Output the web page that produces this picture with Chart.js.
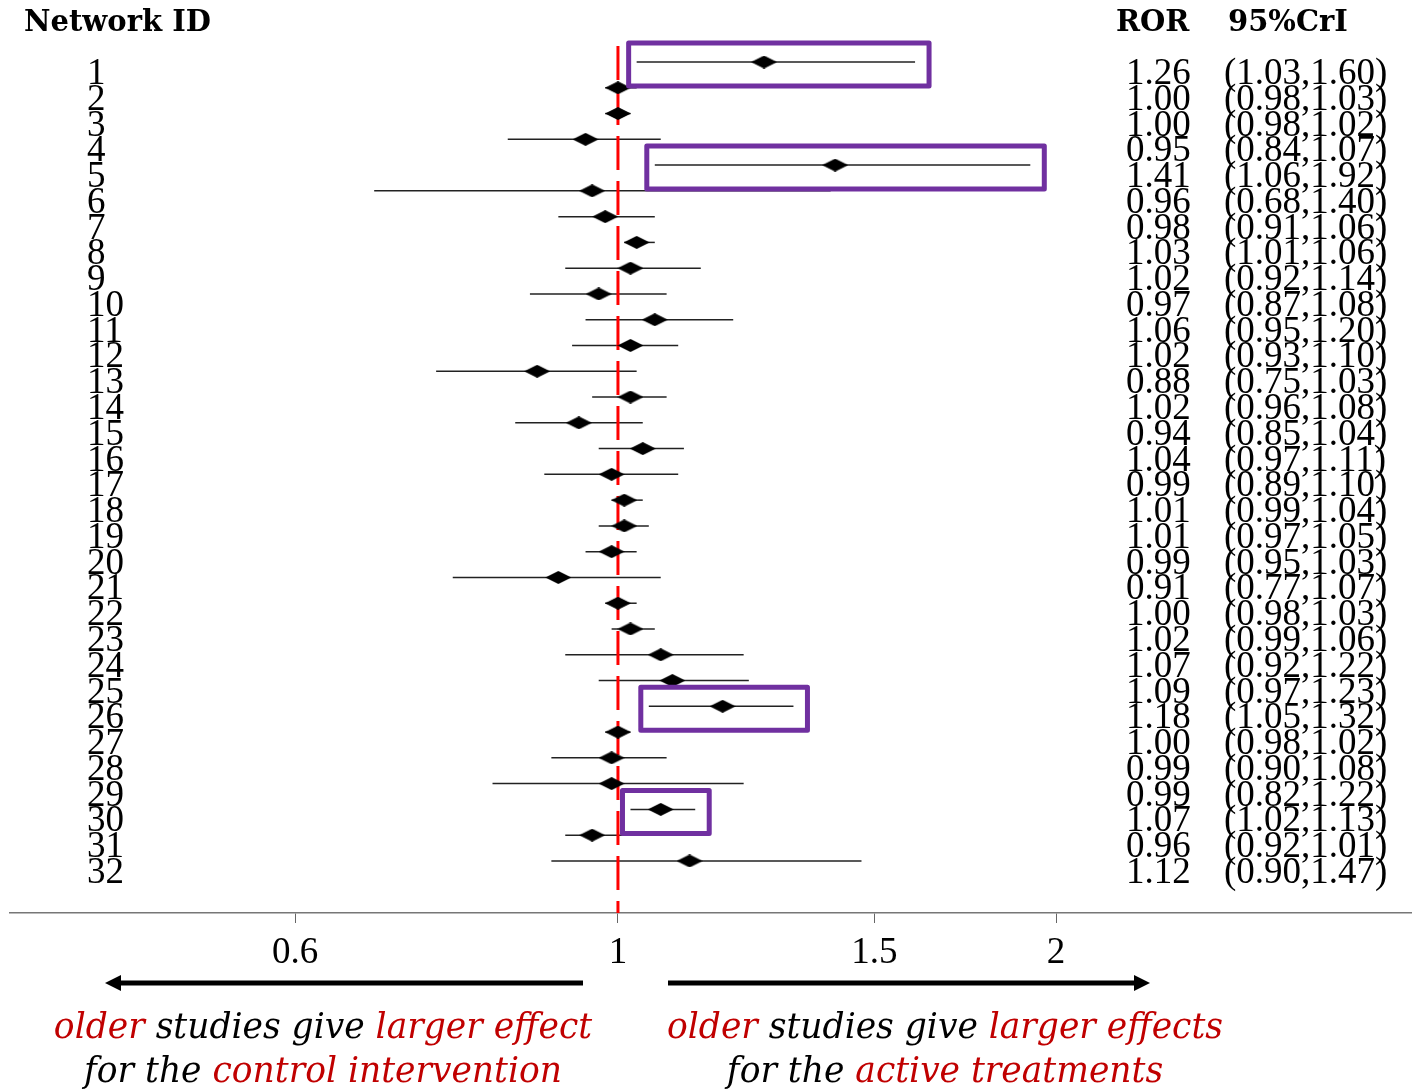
<!DOCTYPE html>
<html>
<head>
<meta charset="utf-8">
<title>Network forest plot</title>
<script src="https://cdn.jsdelivr.net/npm/chart.js@4.4.1/dist/chart.umd.min.js"></script>
<style>
  html, body { margin: 0; padding: 0; background: #fff; }
  canvas { display: block; }
</style>
</head>
<body>
<canvas id="forest" width="1412" height="1089"></canvas>
<script>
'use strict';
const networkIds = [1, 2, 3, 4, 5, 6, 7, 8, 9, 10, 11, 12, 13, 14, 15, 16,
  17, 18, 19, 20, 21, 22, 23, 24, 25, 26, 27, 28, 29, 30, 31, 32];
const rorValues = [1.26, 1.00, 1.00, 0.95, 1.41, 0.96, 0.98, 1.03, 1.02, 0.97, 1.06, 1.02, 0.88, 1.02, 0.94, 1.04,
  0.99, 1.01, 1.01, 0.99, 0.91, 1.00, 1.02, 1.07, 1.09, 1.18, 1.00, 0.99, 0.99, 1.07, 0.96, 1.12];
const crlLow = [1.03, 0.98, 0.98, 0.84, 1.06, 0.68, 0.91, 1.01, 0.92, 0.87, 0.95, 0.93, 0.75, 0.96, 0.85, 0.97,
  0.89, 0.99, 0.97, 0.95, 0.77, 0.98, 0.99, 0.92, 0.97, 1.05, 0.98, 0.90, 0.82, 1.02, 0.92, 0.90];
const crlHigh = [1.60, 1.03, 1.02, 1.07, 1.92, 1.40, 1.06, 1.06, 1.14, 1.08, 1.20, 1.10, 1.03, 1.08, 1.04, 1.11,
  1.10, 1.04, 1.05, 1.03, 1.07, 1.03, 1.06, 1.22, 1.23, 1.32, 1.02, 1.08, 1.22, 1.13, 1.01, 1.47];
const boxedIds = [1, 5, 26, 30]; // rows framed in purple
const axisTicks = [0.6, 1, 1.5, 2];

// scale limits so the plot lines up with the slide
const xMin = 0.3822;
const xMax = 3.512;
const yMin = -1.406;
const yMax = 34.02;

const RED = '#c00000';
const PURPLE = '#7030a0';
const NUM_FONT = '37px "Liberation Serif"';

// flat black diamond used as the point marker
function makeDiamond(w, h) {
  const c = document.createElement('canvas');
  c.width = w;
  c.height = h;
  const g = c.getContext('2d');
  g.fillStyle = '#000';
  g.beginPath();
  g.moveTo(0, h / 2);
  g.lineTo(w / 2, 0);
  g.lineTo(w, h / 2);
  g.lineTo(w / 2, h);
  g.closePath();
  g.fill();
  return c;
}
const diamond = makeDiamond(26, 13);

const diamondSet = {
  data: networkIds.map((id, i) => ({ x: rorValues[i], y: id })),
  pointStyle: diamond,
  pointRadius: 6,
  showLine: false,
  order: 0,
};

const refLine = {
  data: [{ x: 1, y: 0.38 }, { x: 1, y: yMax }],
  showLine: true,
  borderColor: '#ff0000',
  borderWidth: 3,
  borderDash: [34, 11],
  pointRadius: 0,
  order: 1,
};

const ciSets = networkIds.map((id, i) => ({
  data: [{ x: crlLow[i], y: id }, { x: crlHigh[i], y: id }],
  showLine: true,
  borderColor: '#222',
  borderWidth: 1.5,
  pointRadius: 0,
  order: 2,
}));

// draws mixed colour text centred on cx
function drawRich(ctx, parts, cx, y) {
  let total = 0;
  parts.forEach(p => { total += ctx.measureText(p[0]).width; });
  let x = cx - total / 2;
  parts.forEach(p => {
    ctx.fillStyle = p[1];
    ctx.fillText(p[0], x, y);
    x += ctx.measureText(p[0]).width;
  });
}

function drawArrow(ctx, x1, x2, y) {
  const dir = x2 > x1 ? 1 : -1;
  ctx.strokeStyle = '#000';
  ctx.fillStyle = '#000';
  ctx.lineWidth = 5;
  ctx.beginPath();
  ctx.moveTo(x1, y);
  ctx.lineTo(x2 - dir * 14, y);
  ctx.stroke();
  ctx.beginPath();
  ctx.moveTo(x2, y);
  ctx.lineTo(x2 - dir * 16, y - 8);
  ctx.lineTo(x2 - dir * 16, y + 8);
  ctx.closePath();
  ctx.fill();
}

const forestText = {
  id: 'forestText',
  afterDatasetsDraw(chart) {
    const ctx = chart.ctx;
    const xs = chart.scales.x;
    const ys = chart.scales.y;
    ctx.save();
    ctx.strokeStyle = PURPLE;
    ctx.lineWidth = 5;
    ctx.lineJoin = 'round';
    boxedIds.forEach(id => {
      const i = networkIds.indexOf(id);
      const left = xs.getPixelForValue(crlLow[i]) - 8;
      const right = xs.getPixelForValue(crlHigh[i]) + 14;
      const yc = ys.getPixelForValue(id);
      ctx.strokeRect(left, yc - 19, right - left, 43);
    });
    ctx.restore();
  },
  afterDraw(chart) {
    const ctx = chart.ctx;
    const ys = chart.scales.y;
    ctx.save();

    // headers
    ctx.fillStyle = '#000';
    ctx.font = 'bold 29px "DejaVu Serif"';
    ctx.textBaseline = 'alphabetic';
    ctx.textAlign = 'left';
    ctx.fillText('Network ID', 24, 31);
    ctx.fillText('ROR', 1116, 31);
    ctx.fillText('95%CrI', 1228, 31);

    // row labels and values
    ctx.font = NUM_FONT;
    networkIds.forEach((id, i) => {
      const y = ys.getPixelForValue(id) + 22;
      ctx.fillText(String(id), 87, y);
      ctx.fillText(rorValues[i].toFixed(2), 1126, y);
      ctx.fillText('(' + crlLow[i].toFixed(2) + ',' + crlHigh[i].toFixed(2) + ')', 1224, y);
    });

    // direction arrows
    drawArrow(ctx, 583, 105, 983);
    drawArrow(ctx, 668, 1150, 983);

    // captions
    ctx.font = 'italic 34.5px "DejaVu Serif"';
    ctx.textBaseline = 'alphabetic';
    drawRich(ctx, [['older', RED], [' studies give ', '#000'], ['larger effect', RED]], 323, 1038);
    drawRich(ctx, [['for the ', '#000'], ['control intervention', RED]], 323, 1082);
    drawRich(ctx, [['older', RED], [' studies give ', '#000'], ['larger effects', RED]], 945, 1038);
    drawRich(ctx, [['for the ', '#000'], ['active treatments', RED]], 945, 1082);
    ctx.restore();
  },
};

new Chart(document.getElementById('forest'), {
  type: 'scatter',
  data: { datasets: [diamondSet, refLine].concat(ciSets) },
  options: {
    responsive: false,
    animation: false,
    events: [],
    layout: { autoPadding: false, padding: { left: 10, right: 0, top: 0, bottom: 0 } },
    plugins: {
      legend: { display: false },
      tooltip: { enabled: false },
    },
    scales: {
      x: {
        type: 'logarithmic',
        position: 'bottom',
        min: xMin,
        max: xMax,
        afterBuildTicks: s => { s.ticks = axisTicks.map(v => ({ value: v })); },
        afterFit: s => { s.height = 176; },
        ticks: {
          autoSkip: false,
          maxRotation: 0,
          color: '#000',
          padding: 8,
          font: { family: 'Liberation Serif', size: 37 },
          callback: v => String(v),
        },
        grid: { drawOnChartArea: false, drawTicks: true, tickLength: 10, color: '#666' },
        border: { color: '#777', width: 1.5 },
      },
      y: {
        type: 'linear',
        display: false,
        reverse: true,
        min: yMin,
        max: yMax,
      },
    },
  },
  plugins: [forestText],
});
</script>
</body>
</html>
